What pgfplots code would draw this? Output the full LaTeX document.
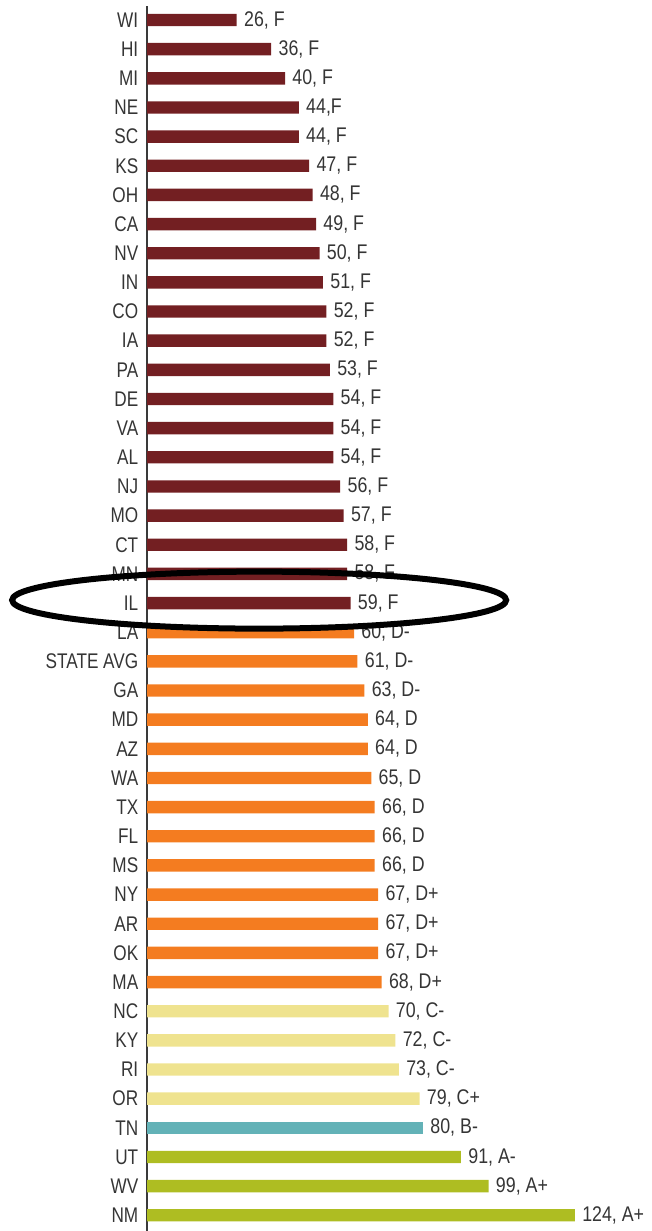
\documentclass[border=0pt]{standalone}
\usepackage{pgfplots}
\pgfplotsset{compat=1.18}
\usepackage{fontspec}
\setmainfont{Liberation Sans}[FakeStretch=0.81]
\newfontfamily\valfont{Liberation Sans}[FakeStretch=0.84]
\definecolor{cF}{HTML}{731F22}
\definecolor{cD}{HTML}{F47C20}
\definecolor{cC}{HTML}{EFE38F}
\definecolor{cB}{HTML}{63B2B7}
\definecolor{cA}{HTML}{AEBD22}
\definecolor{txt}{HTML}{353535}
\definecolor{axisgray}{HTML}{3A3A3A}
\begin{document}
\begin{tikzpicture}
\begin{axis}[
  x=1.725pt, y=14.575pt, y dir=reverse,
  xmin=0, xmax=146.09, ymin=-0.48, ymax=41.54,
  axis x line=none, axis y line*=left,
  y axis line style={draw=axisgray, line width=1pt},
  xbar, bar width=6.2pt, bar shift=0pt,
  ytick={0,...,41},
  yticklabels={WI,HI,MI,NE,SC,KS,OH,CA,NV,IN,CO,IA,PA,DE,VA,AL,NJ,MO,CT,MN,IL,LA,STATE AVG,GA,MD,AZ,WA,TX,FL,MS,NY,AR,OK,MA,NC,KY,RI,OR,TN,UT,WV,NM},
  ytick style={draw=none}, major tick length=0pt,
  yticklabel style={anchor=east, inner sep=0pt, xshift=-4.2pt, font=\fontsize{10.6}{12}\selectfont, text=txt},
  point meta=explicit symbolic,
  nodes near coords,
  nodes near coords style={anchor=west, inner sep=0pt, xshift=3.5pt, font=\valfont\fontsize{10.6}{12}\selectfont, text=txt},
  clip=false,
]
\addplot[fill=cF, draw=none] table[col sep=semicolon, row sep=\\, x=v, y=i, meta=l] {
i;v;l\\
0;26;26, F\\
1;36;36, F\\
2;40;40, F\\
3;44;44,F\\
4;44;44, F\\
5;47;47, F\\
6;48;48, F\\
7;49;49, F\\
8;50;50, F\\
9;51;51, F\\
10;52;52, F\\
11;52;52, F\\
12;53;53, F\\
13;54;54, F\\
14;54;54, F\\
15;54;54, F\\
16;56;56, F\\
17;57;57, F\\
18;58;58, F\\
19;58;58, F\\
20;59;59, F\\
};
\addplot[fill=cD, draw=none] table[col sep=semicolon, row sep=\\, x=v, y=i, meta=l] {
i;v;l\\
21;60;60, D-\\
22;61;61, D-\\
23;63;63, D-\\
24;64;64, D\\
25;64;64, D\\
26;65;65, D\\
27;66;66, D\\
28;66;66, D\\
29;66;66, D\\
30;67;67, D+\\
31;67;67, D+\\
32;67;67, D+\\
33;68;68, D+\\
};
\addplot[fill=cC, draw=none] table[col sep=semicolon, row sep=\\, x=v, y=i, meta=l] {
i;v;l\\
34;70;70, C-\\
35;72;72, C-\\
36;73;73, C-\\
37;79;79, C+\\
};
\addplot[fill=cB, draw=none] table[col sep=semicolon, row sep=\\, x=v, y=i, meta=l] {
i;v;l\\
38;80;80, B-\\
};
\addplot[fill=cA, draw=none] table[col sep=semicolon, row sep=\\, x=v, y=i, meta=l] {
i;v;l\\
39;91;91, A-\\
40;99;99, A+\\
41;124;124, A+\\
};
\coordinate (tl) at (axis cs:-42.61,-0.686);
\coordinate (br) at (axis cs:146.09,41.54);
\coordinate (ec) at (axis cs:32.5,19.9);
\end{axis}
\draw[black, line width=3pt] (ec) ellipse [x radius=123.5pt, y radius=14.25pt];
\pgfresetboundingbox
\path (tl) rectangle (br);
\end{tikzpicture}
\end{document}
